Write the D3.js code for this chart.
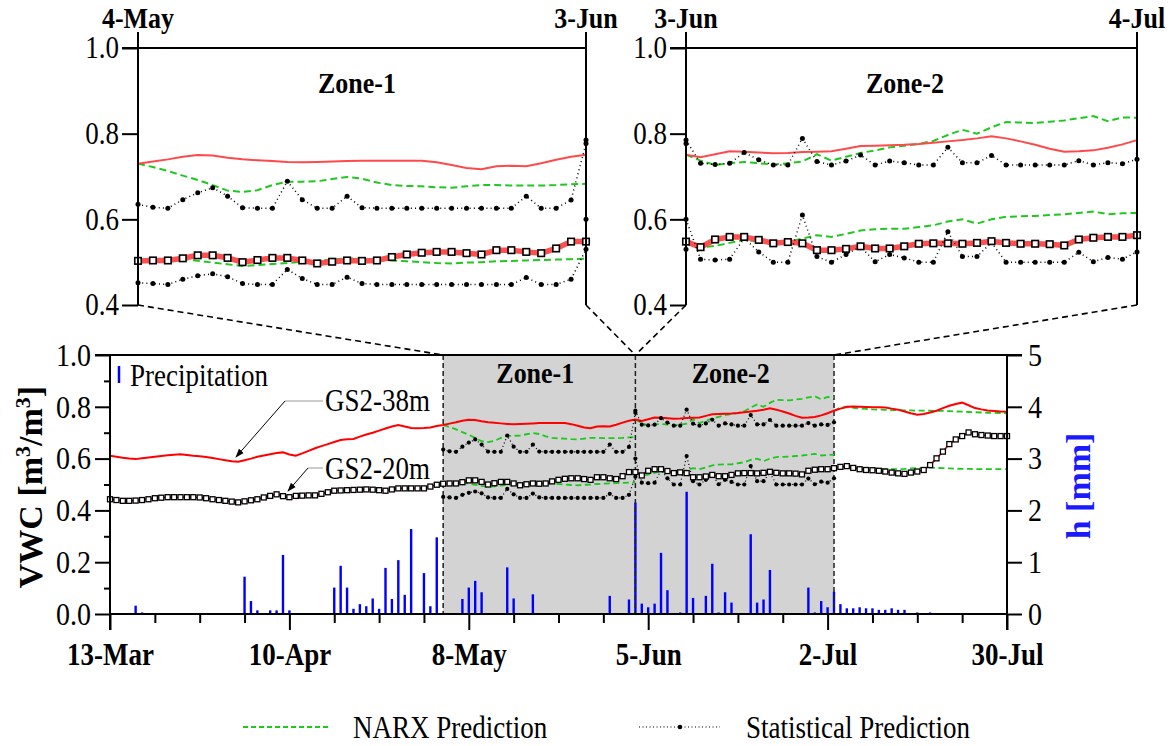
<!DOCTYPE html>
<html><head><meta charset="utf-8">
<script src="https://cdn.jsdelivr.net/npm/d3@7"></script>
<style>
body{margin:0;background:#fff}
svg{display:block}
text{font-family:"Liberation Serif","Times New Roman",serif;fill:#000}
text.tall{transform-box:fill-box;transform-origin:center;transform:scaleY(1.14)}
</style>
</head><body>
<svg id="c" width="1175" height="746"></svg>
<script>
// ---------- labels / ticks ----------
const dateLabels = ["13-Mar","10-Apr","8-May","5-Jun","2-Jul","30-Jul"];
const dateTickDays = [0,28,56,84,112,140];
const minorTickDays = [7,14,21,35,42,49,63,70,77,91,98,105,119,126,133];
const zoneBounds = [52,82,113];
const zoneLabels = ["Zone-1","Zone-2"];
const insetEdgeLabels = [["4-May","3-Jun"],["3-Jun","4-Jul"]];
const vwcTicks = [0,0.2,0.4,0.6,0.8,1.0];
const vwcMinor = [0.1,0.3,0.5,0.7,0.9];
const hTicks = [0,1,2,3,4,5];
const insetTicks = [0.4,0.6,0.8,1.0];

// ---------- observed series (daily, starting 13-Mar = day 0) ----------
const obs38Start = 0;
const obs38 = [0.611,0.607,0.603,0.600,0.598,0.601,0.604,0.607,0.610,0.613,0.615,0.617,0.614,0.611,0.609,0.606,0.602,0.598,0.594,0.590,
  0.588,0.594,0.600,0.607,0.612,0.617,0.622,0.624,0.616,0.611,0.620,0.630,0.640,0.648,0.656,0.664,0.672,0.675,0.676,0.685,
  0.693,0.700,0.708,0.716,0.724,0.730,0.724,0.718,0.717,0.718,0.720,0.726,
  0.730,0.735,0.740,0.746,0.750,0.749,0.744,0.740,0.738,0.736,0.734,0.733,0.734,0.735,0.736,0.737,0.737,0.737,0.737,0.737,
  0.733,0.727,0.720,0.717,0.724,0.725,0.724,0.731,0.739,0.746,
  0.751,0.745,0.752,0.759,0.758,0.756,0.754,0.755,0.757,0.758,0.759,0.765,0.771,0.772,0.773,0.774,0.776,0.779,0.782,0.785,
  0.789,0.794,0.789,0.782,0.774,0.765,0.758,0.759,0.761,0.767,0.775,
  0.785,0.793,0.800,0.801,0.800,0.799,0.798,0.798,0.797,0.793,0.789,0.782,0.775,0.769,0.772,0.778,0.785,0.795,0.804,0.811,
  0.816,0.806,0.795,0.790,0.786,0.784,0.782,0.781];
const obs20Start = 0;
const obs20 = [0.443,0.440,0.437,0.437,0.438,0.440,0.443,0.447,0.449,0.451,0.451,0.451,0.451,0.451,0.450,0.447,0.443,0.440,0.437,0.434,
  0.431,0.435,0.439,0.443,0.450,0.456,0.462,0.455,0.451,0.456,0.457,0.458,0.458,0.464,0.470,0.476,0.477,0.478,0.479,0.480,
  0.481,0.480,0.478,0.476,0.481,0.485,0.485,0.485,0.485,0.485,0.492,0.499,
  0.503,0.504,0.504,0.509,0.516,0.516,0.510,0.500,0.505,0.510,0.510,0.504,0.497,0.501,0.504,0.503,0.504,0.512,0.518,0.522,
  0.524,0.524,0.521,0.518,0.528,0.528,0.524,0.521,0.532,0.548,
  0.548,0.535,0.553,0.559,0.559,0.552,0.544,0.547,0.544,0.528,0.528,0.531,0.537,0.532,0.532,0.537,0.543,0.544,0.544,0.543,
  0.545,0.549,0.545,0.543,0.543,0.542,0.539,0.553,0.557,0.559,0.559,
  0.563,0.568,0.571,0.564,0.559,0.556,0.555,0.553,0.550,0.546,0.543,0.541,0.546,0.550,0.556,0.575,0.601,0.627,0.656,0.674,
  0.687,0.701,0.694,0.691,0.689,0.687,0.687,0.687];

// ---------- NARX predictions (start days 52, 82, 113) ----------
const narxStarts = [52,82,113];
const narx38Zone1 = [0.730,0.722,0.713,0.702,0.692,0.680,0.667,0.664,0.668,0.680,0.688,0.688,0.689,0.694,0.699,0.695,0.686,0.680,0.678,0.677,
  0.675,0.674,0.677,0.680,0.680,0.679,0.679,0.679,0.680,0.682,0.683];
const narx38Zone2 = [0.751,0.737,0.727,0.731,0.734,0.731,0.728,0.731,0.735,0.752,0.737,0.746,0.755,0.761,0.768,0.772,0.776,0.783,0.797,0.809,
  0.800,0.815,0.827,0.826,0.825,0.828,0.831,0.836,0.841,0.829,0.838,0.837];
const narx38After = [0.785,0.797,0.798,0.796,0.794,0.792,0.790,0.789,0.788,0.787,0.787,0.786,0.786,0.785,0.785,0.785,0.784,0.784,0.783,0.782,
  0.781,0.780,0.779,0.778,0.777,0.777,0.776,0.775];
const narx20Zone1 = [0.503,0.505,0.507,0.508,0.503,0.499,0.495,0.491,0.493,0.496,0.498,0.501,0.503,0.506,0.509,0.508,0.506,0.504,0.502,0.500,
  0.498,0.497,0.499,0.500,0.502,0.503,0.504,0.505,0.506,0.507,0.508];
const narx20Zone2 = [0.548,0.534,0.538,0.545,0.552,0.548,0.545,0.547,0.555,0.563,0.559,0.566,0.574,0.577,0.578,0.578,0.582,0.586,0.595,0.600,
  0.590,0.600,0.606,0.607,0.608,0.610,0.612,0.615,0.618,0.612,0.614,0.615];
const narx20After = [0.565,0.566,0.566,0.565,0.564,0.563,0.562,0.561,0.560,0.559,0.559,0.560,0.562,0.563,0.564,0.565,0.564,0.563,0.562,0.561,
  0.560,0.560,0.559,0.559,0.559,0.559,0.559,0.559];

// ---------- Statistical predictions (start days 52, 82) ----------
const statStarts = [52,82];
const stat38Zone1 = [0.635,0.628,0.626,0.646,0.662,0.674,0.654,0.627,0.626,0.626,0.689,0.646,0.626,0.626,0.654,0.627,
  0.626,0.626,0.626,0.626,0.626,0.626,0.626,0.626,0.626,0.626,0.654,0.626,0.626,0.645,0.777];
const stat38Zone2 = [0.785,0.731,0.728,0.731,0.756,0.739,0.727,0.727,0.789,0.735,0.727,0.736,0.750,0.727,0.736,0.732,0.727,0.727,0.768,0.732,
  0.732,0.749,0.727,0.727,0.727,0.727,0.727,0.737,0.727,0.732,0.730,0.740];
const stat20Zone1 = [0.452,0.450,0.448,0.460,0.468,0.473,0.466,0.450,0.448,0.448,0.483,0.462,0.448,0.448,0.465,0.450,
  0.448,0.448,0.448,0.448,0.448,0.448,0.448,0.448,0.448,0.448,0.464,0.448,0.448,0.460,0.530];
const stat20Zone2 = [0.600,0.507,0.505,0.507,0.556,0.524,0.500,0.500,0.610,0.513,0.500,0.518,0.536,0.501,0.518,0.510,0.500,0.500,0.571,0.513,
  0.513,0.546,0.500,0.500,0.500,0.500,0.500,0.523,0.501,0.511,0.507,0.524];

// ---------- Precipitation ----------
const precipDay = [4,5,21,22,23,25,26,27,28,35,36,37,38,39,40,41,42,43,44,45,46,47,49,50,51,55,56,57,58,62,63,66,78,81,
  82,83,84,85,86,87,89,90,91,93,94,95,96,97,100,101,102,103,109,110,111,112,113,114,115,116,117,118,119,120,121,122,123,124,126,128];
const precipMm = [0.16,0.03,0.72,0.25,0.07,0.07,0.07,1.14,0.07,0.51,0.93,0.51,0.10,0.19,0.15,0.30,0.10,0.89,0.29,1.04,0.37,1.64,0.79,0.15,1.48,
  0.29,0.51,0.64,0.42,0.90,0.30,0.38,0.35,0.28,2.15,0.20,0.13,0.20,1.18,0.46,0.03,2.36,0.31,0.35,0.97,0.03,0.42,0.22,1.54,0.22,0.28,0.85,
  0.51,0.03,0.25,0.13,0.43,0.19,0.11,0.11,0.13,0.11,0.11,0.08,0.08,0.11,0.08,0.08,0.03,0.03];

// ================= drawing =================
const svg = d3.select("#c");
const FONT = "Liberation Serif";
const toPts = (start, vals) => vals.map((v,i)=>({d:start+i, v}));

const mx = d3.scaleLinear().domain([0,140]).range([110,1007]);
const my = d3.scaleLinear().domain([0,1]).range([614,355]);
const mh = d3.scaleLinear().domain([0,5]).range([614,355]);

svg.append("defs").append("marker").attr("id","arr").attr("viewBox","0 0 10 10")
  .attr("refX",9).attr("refY",5).attr("markerWidth",9).attr("markerHeight",9).attr("orient","auto")
  .append("path").attr("d","M0,1.5 L10,5 L0,8.5 Z").attr("fill","#000");

// ---- main panel background ----
const main = svg.append("g");
main.append("rect").attr("x",mx(zoneBounds[0])).attr("y",my(1))
  .attr("width",mx(zoneBounds[2])-mx(zoneBounds[0])).attr("height",my(0)-my(1)).attr("fill","#d3d3d3");

// precipitation bars
main.selectAll("rect.p").data(precipDay.map((d,i)=>({d, v:precipMm[i]}))).enter().append("rect")
  .attr("x",p=>mx(p.d)-1.2).attr("width",2.4).attr("y",p=>mh(p.v)).attr("height",p=>mh(0)-mh(p.v)).attr("fill","#0000ff");

// zone dashed lines
main.selectAll("line.z").data(zoneBounds).enter().append("line")
  .attr("x1",d=>mx(d)).attr("x2",d=>mx(d)).attr("y1",my(1)).attr("y2",my(0))
  .attr("stroke","#222").attr("stroke-width",1.5).attr("stroke-dasharray","5,3");

function drawSeries(g, xs, ys, o){
  const line = d3.line().x(p=>xs(p.d)).y(p=>ys(p.v));
  [[narx38Zone1,0],[narx38Zone2,1],[narx38After,2],[narx20Zone1,0],[narx20Zone2,1],[narx20After,2]].forEach(([arr,k])=>{
    const pts = toPts(narxStarts[k],arr).filter(p=>p.d>=xs.domain()[0]&&p.d<=xs.domain()[1]);
    if(pts.length<2) return;
    g.append("path").attr("d",line(pts)).attr("fill","none").attr("stroke","#1ec81e")
      .attr("stroke-width",o.nw).attr("stroke-dasharray",o.nd);
  });
  const p38 = toPts(obs38Start,obs38).filter(p=>p.d>=xs.domain()[0]&&p.d<=xs.domain()[1]);
  g.append("path").attr("d",line(p38)).attr("fill","none").attr("stroke",o.r38).attr("stroke-width",o.w38);
  const p20 = toPts(obs20Start,obs20).filter(p=>p.d>=xs.domain()[0]&&p.d<=xs.domain()[1]);
  g.append("path").attr("d",line(p20)).attr("fill","none").attr("stroke",o.r20).attr("stroke-width",o.w20)
    .attr("stroke-linecap","round");
  [[stat38Zone1,0],[stat38Zone2,1],[stat20Zone1,0],[stat20Zone2,1]].forEach(([arr,k])=>{
    const pts = toPts(statStarts[k],arr).filter(p=>p.d>=xs.domain()[0]&&p.d<=xs.domain()[1]);
    if(pts.length<1) return;
    g.append("path").attr("d",line(pts)).attr("fill","none").attr("stroke","#000")
      .attr("stroke-width",o.sw).attr("stroke-dasharray",o.sd);
    g.selectAll(null).data(pts).enter().append("circle").attr("cx",p=>xs(p.d)).attr("cy",p=>ys(p.v))
      .attr("r",o.sr).attr("fill","#000");
  });
  const s = o.sq;
  g.selectAll(null).data(p20).enter().append("rect")
    .attr("x",p=>xs(p.d)-s/2).attr("y",p=>ys(p.v)-s/2).attr("width",s).attr("height",s)
    .attr("fill","#fff").attr("stroke","#000").attr("stroke-width",o.sqw);
}

drawSeries(main.append("g"), mx, my, {nw:1.8, nd:"6,3.5", r38:"#ff0000", w38:2, r20:"#e00000", w20:1.6,
  sw:1.2, sd:"1,2.6", sr:2.1, sq:5, sqw:1.3});

// ---- main axes ----
const ax = main.append("g").attr("stroke","#000");
ax.append("line").attr("x1",95).attr("x2",1022).attr("y1",my(1)).attr("y2",my(1)).attr("stroke-width",2);
ax.append("line").attr("x1",mx(0)).attr("x2",mx(0)).attr("y1",my(1)).attr("y2",630).attr("stroke-width",2);
ax.append("line").attr("x1",mx(140)).attr("x2",mx(140)).attr("y1",my(1)).attr("y2",630).attr("stroke-width",2);
ax.append("line").attr("x1",mx(0)).attr("x2",mx(140)).attr("y1",my(0)).attr("y2",my(0)).attr("stroke-width",2);

const yAx = main.append("g").attr("transform",`translate(${mx(0)},0)`)
  .call(d3.axisLeft(my).tickValues(vwcTicks).tickSize(15).tickPadding(4).tickFormat(d3.format(".1f")));
main.append("g").attr("transform",`translate(${mx(0)},0)`)
  .call(d3.axisLeft(my).tickValues(vwcMinor).tickSize(6).tickFormat(""));
const hAx = main.append("g").attr("transform",`translate(${mx(140)},0)`)
  .call(d3.axisRight(mh).tickValues(hTicks).tickSize(15).tickPadding(6).tickFormat(d3.format("d")));
const xAx = main.append("g").attr("transform",`translate(0,${my(0)})`)
  .call(d3.axisBottom(mx).tickValues(dateTickDays).tickSize(16).tickPadding(15).tickFormat((d,i)=>dateLabels[i]));
main.append("g").attr("transform",`translate(0,${my(0)})`)
  .call(d3.axisBottom(mx).tickValues(minorTickDays).tickSize(9).tickFormat(""));
main.selectAll(".domain").remove();
main.selectAll(".tick line").attr("stroke","#000").attr("stroke-width",2);
yAx.selectAll("text").attr("font-family",FONT).attr("font-size",28).attr("fill","#000").classed("tall",true);
hAx.selectAll("text").attr("font-family",FONT).attr("font-size",28).attr("fill","#1a1aff").classed("tall",true);
xAx.selectAll("text").attr("font-family",FONT).attr("font-size",27).attr("font-weight","bold").attr("fill","#000").classed("tall",true);

zoneLabels.forEach((t,i)=>{
  main.append("text").attr("class","tall").attr("x",(mx(zoneBounds[i])+mx(zoneBounds[i+1]))/2-4).attr("y",382)
    .attr("text-anchor","middle").attr("font-size",26).attr("font-weight","bold").text(t);
});

main.append("line").attr("x1",119).attr("x2",119).attr("y1",366).attr("y2",383).attr("stroke","#0000ff").attr("stroke-width",2.5);
main.append("text").attr("class","tall").attr("x",130).attr("y",385).attr("font-size",27).text("Precipitation");

main.append("line").attr("x1",285).attr("x2",323).attr("y1",401).attr("y2",401).attr("stroke","#999").attr("stroke-width",1);
main.append("line").attr("x1",285).attr("y1",401).attr("x2",236).attr("y2",457).attr("stroke","#000").attr("stroke-width",1).attr("marker-end","url(#arr)");
main.append("text").attr("class","tall").attr("x",325).attr("y",410).attr("font-size",27).text("GS2-38m");
main.append("line").attr("x1",308).attr("x2",323).attr("y1",468).attr("y2",468).attr("stroke","#999").attr("stroke-width",1);
main.append("line").attr("x1",308).attr("y1",468).attr("x2",288).attr("y2",491).attr("stroke","#000").attr("stroke-width",1).attr("marker-end","url(#arr)");
main.append("text").attr("class","tall").attr("x",325).attr("y",478).attr("font-size",27).text("GS2-20m");

const yt = main.append("text").attr("transform","translate(42,487) rotate(-90)").attr("text-anchor","middle")
  .attr("font-size",34).attr("font-weight","bold");
yt.append("tspan").text("VWC [m");
yt.append("tspan").attr("dy",-12).attr("font-size",22).text("3");
yt.append("tspan").attr("dy",12).text("/m");
yt.append("tspan").attr("dy",-12).attr("font-size",22).text("3");
yt.append("tspan").attr("dy",12).text("]");
main.append("text").attr("transform","translate(1090,486) rotate(-90)").attr("text-anchor","middle")
  .attr("font-size",34).attr("font-weight","bold").style("fill","#1a1aff").text("h [mm]");

// ---- insets ----
const insetDefs = [
  {x0:138, x1:586, dom:[zoneBounds[0],zoneBounds[1]], title:zoneLabels[0], tx:357, edge:insetEdgeLabels[0]},
  {x0:686, x1:1137, dom:[zoneBounds[1],zoneBounds[2]], title:zoneLabels[1], tx:905, edge:insetEdgeLabels[1]}
];
const iy = d3.scaleLinear().domain([0.4,1.0]).range([305,48]);
insetDefs.forEach(def=>{
  const g = svg.append("g");
  const ix = d3.scaleLinear().domain(def.dom).range([def.x0,def.x1]);
  drawSeries(g.append("g"), ix, iy, {nw:2, nd:"7,4", r38:"#ff4a4a", w38:2, r20:"#ff5050", w20:5.5,
    sw:1.5, sd:"1,3.2", sr:2.5, sq:6.5, sqw:1.6});
  g.append("line").attr("x1",def.x0-16).attr("x2",def.x1).attr("y1",iy(1)).attr("y2",iy(1)).attr("stroke","#000").attr("stroke-width",2);
  [def.x0,def.x1].forEach(x=>g.append("line").attr("x1",x).attr("x2",x).attr("y1",32).attr("y2",iy(0.4))
    .attr("stroke","#000").attr("stroke-width",2));
  const ya = g.append("g").attr("transform",`translate(${def.x0},0)`)
    .call(d3.axisLeft(iy).tickValues(insetTicks).tickSize(16).tickPadding(3).tickFormat(d3.format(".1f")));
  ya.select(".domain").remove();
  ya.selectAll(".tick line").attr("stroke","#000").attr("stroke-width",2);
  ya.selectAll("text").attr("font-family",FONT).attr("font-size",27).attr("fill","#000").classed("tall",true);
  g.append("text").attr("class","tall").attr("x",def.tx).attr("y",92).attr("text-anchor","middle").attr("font-size",26)
    .attr("font-weight","bold").text(def.title);
  def.edge.forEach((t,i)=>g.append("text").attr("class","tall").attr("x",i?def.x1:def.x0).attr("y",27).attr("text-anchor","middle")
    .attr("font-size",26).attr("font-weight","bold").text(t));
  g.append("line").attr("x1",def.x0).attr("y1",iy(0.4)).attr("x2",mx(def.dom[0])).attr("y2",my(1))
    .attr("stroke","#000").attr("stroke-width",1.6).attr("stroke-dasharray","6,4");
  g.append("line").attr("x1",def.x1).attr("y1",iy(0.4)).attr("x2",mx(def.dom[1])).attr("y2",my(1))
    .attr("stroke","#000").attr("stroke-width",1.6).attr("stroke-dasharray","6,4");
});

// ---- bottom legend ----
const lg = svg.append("g");
lg.append("line").attr("x1",243).attr("x2",330).attr("y1",727).attr("y2",727).attr("stroke","#1ec81e")
  .attr("stroke-width",1.8).attr("stroke-dasharray","5,3");
lg.append("text").attr("class","tall").attr("x",353).attr("y",737).attr("font-size",27).text("NARX Prediction");
lg.append("line").attr("x1",639).attr("x2",720).attr("y1",727).attr("y2",727).attr("stroke","#000")
  .attr("stroke-width",1.2).attr("stroke-dasharray","1,2.5");
lg.append("circle").attr("cx",680).attr("cy",727).attr("r",2.3).attr("fill","#000");
lg.append("text").attr("class","tall").attr("x",746).attr("y",737).attr("font-size",27).text("Statistical Prediction");
</script>
</body></html>
